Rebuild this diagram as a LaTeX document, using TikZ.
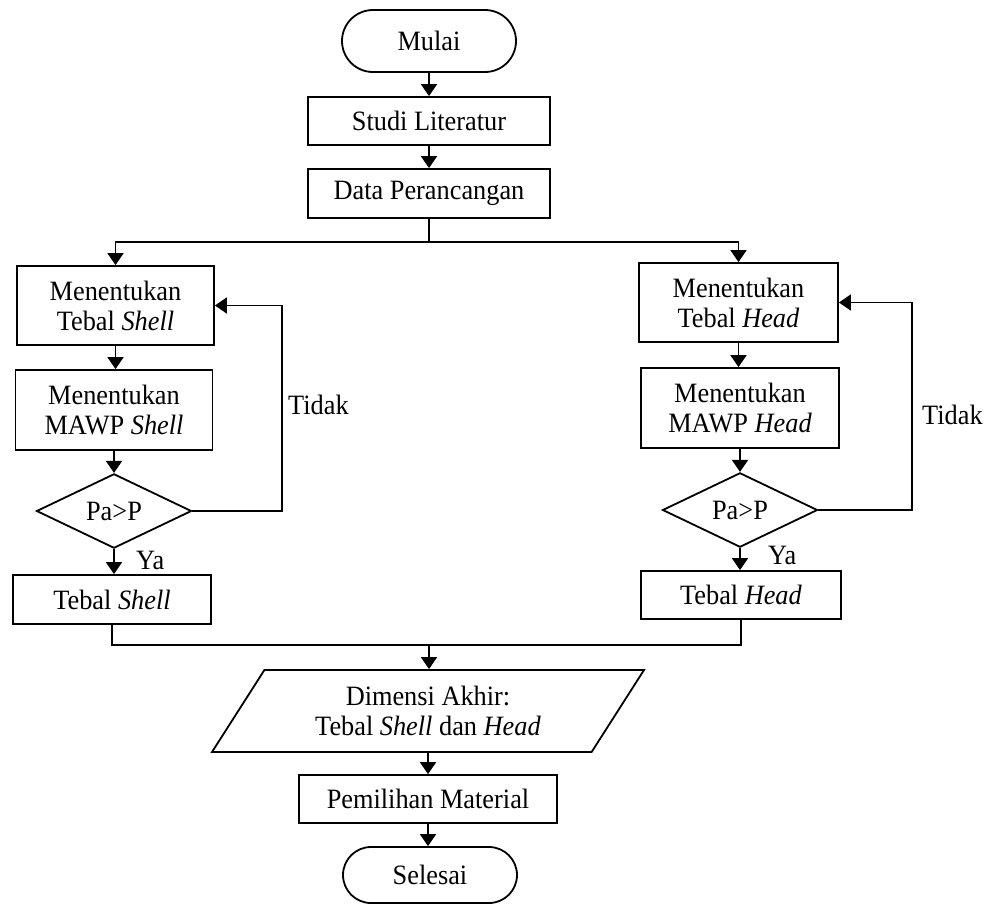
\documentclass[tikz,border=0pt]{standalone}
\usepackage{fontspec}
\setmainfont{Liberation Serif}[FakeStretch=0.94]
\usetikzlibrary{shapes.misc,shapes.geometric,arrows.meta}
\begin{document}
\begin{tikzpicture}[x=1pt,y=-1pt,
  txt/.style={font=\fontsize{28}{30}\selectfont},
  base/.style={txt, draw, line width=1.8pt, inner sep=0pt, align=center},
  boxnode/.style={base, rectangle},
  term/.style={base, rounded rectangle, minimum width=174pt},
  dec/.style={base, diamond, minimum width=155pt, minimum height=74pt},
  para/.style={base, trapezium, trapezium left angle=43.5, trapezium right angle=136.5,
    trapezium stretches body, minimum width=432pt, minimum height=82pt},
  arr/.style={line width=1.8pt, -{Triangle[width=16pt,length=12pt]}},
  ln/.style={line width=1.8pt},
  lbl/.style={txt, inner sep=0pt}]
\useasboundingbox (0,0) rectangle (992,903);
\fill[white] (0,0) rectangle (992,903);

\node[term, minimum height=62pt] (start) at (429,41) {Mulai};
\node[boxnode, minimum width=242pt, minimum height=48pt] (lit) at (429,121) {Studi Literatur};
\node[boxnode, minimum width=242pt, minimum height=49pt] (data) at (429,193.5) {Data Perancangan};

\node[boxnode, minimum width=197pt, minimum height=79pt] (ts) at (115.5,305.5) {Menentukan\\Tebal \textit{Shell}};
\node[boxnode, minimum width=197pt, minimum height=80pt] (ms) at (114,410) {Menentukan\\MAWP \textit{Shell}};
\node[dec] (ds) at (114,511) {Pa>P};
\node[boxnode, minimum width=198pt, minimum height=49pt] (tbs) at (112,599.5) {Tebal \textit{Shell}};

\node[boxnode, minimum width=199pt, minimum height=79pt] (th) at (738.5,302.5) {Menentukan\\Tebal \textit{Head}};
\node[boxnode, minimum width=198pt, minimum height=80pt] (mh) at (740,408) {Menentukan\\MAWP \textit{Head}};
\node[dec] (dh) at (740,510) {Pa>P};
\node[boxnode, minimum width=200pt, minimum height=48pt] (tbh) at (741,595) {Tebal \textit{Head}};

\node[para] (dim) at (428,711) {Dimensi Akhir:\\Tebal \textit{Shell} dan \textit{Head}};
\node[boxnode, minimum width=258pt, minimum height=48pt] (pm) at (428,799) {Pemilihan Material};
\node[term, minimum height=56pt] (end) at (430,875) {Selesai};

\node[lbl, anchor=west] (tl) at (288,405) {Tidak};
\node[lbl, anchor=west] (tr) at (922,415) {Tidak};
\node[lbl, anchor=west] (yl) at (136,560) {Ya};
\node[lbl, anchor=west] (yr) at (768,555) {Ya};

\coordinate (split) at (429,242);
\coordinate (fl) at (282,511);
\coordinate (fr) at (912,510);
\coordinate (merge) at (429,645);

\draw[arr] (start.south) -- (start.south |- lit.north);
\draw[arr] (lit.south) -- (lit.south |- data.north);
\draw[ln] (data.south) -- (split);
\draw[arr] (split) -| (ts.north);
\draw[arr] (split) -| (th.north);

\draw[arr] (ts.south) -- (ts.south |- ms.north);
\draw[arr] (ms.south) -- (ms.south |- ds.north);
\draw[arr] (ds.south) -- (ds.south |- tbs.north);
\draw[arr] (ds.east) -- (fl) |- (ts.east);

\draw[arr] (th.south) -- (th.south |- mh.north);
\draw[arr] (mh.south) -- (mh.south |- dh.north);
\draw[arr] (dh.south) -- (dh.south |- tbh.north);
\draw[arr] (dh.east) -- (fr) |- (th.east);

\draw[ln] (tbs.south) -- (tbs.south |- merge) -- (tbh.south |- merge) -- (tbh.south);
\draw[arr] (merge) -- (merge |- dim.north);
\draw[arr] (dim.south) -- (dim.south |- pm.north);
\draw[arr] (pm.south) -- (pm.south |- end.north);
\end{tikzpicture}
\end{document}
